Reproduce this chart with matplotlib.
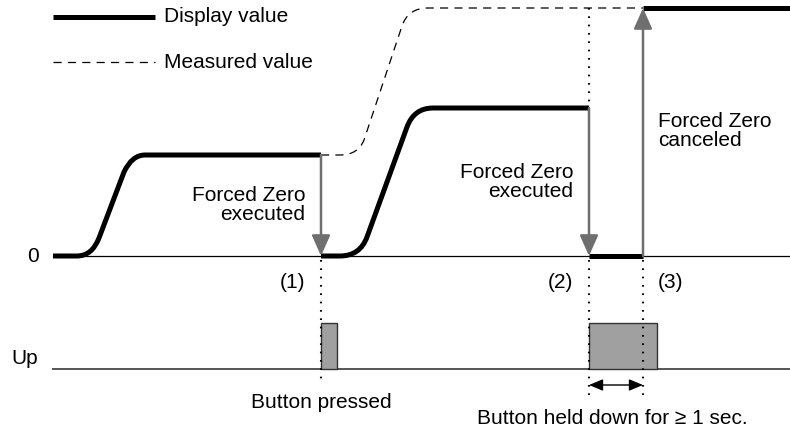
import numpy as np
import matplotlib.pyplot as plt
from matplotlib.path import Path
from matplotlib.patches import PathPatch, Rectangle, FancyArrowPatch

plt.rcParams['font.family'] = ['Liberation Sans', 'DejaVu Sans']

# time axis (x) and signal level (y)
# display value: ramp 1, ramp 2 (vertices + curve codes for the rounded corners)
disp1_x = [53, 77, 92, 99, 124, 132, 145, 321]
disp1_y = [0, 0, 0, 18, 84, 101, 101, 101]
disp2_x = [321, 340, 360, 367, 407, 414, 433, 589]
disp2_y = [0, 0, 0, 19, 129, 148, 148, 148]
ramp_codes = [Path.MOVETO, Path.LINETO, Path.CURVE3, Path.CURVE3,
              Path.LINETO, Path.CURVE3, Path.CURVE3, Path.LINETO]
# zero-held section and the final level
held_x = [589, 643]
held_y = [0, 0]
final_x = [643, 790]
final_y = [248, 248]

# measured value (dashed)
meas_x = [321, 340, 358, 364, 402, 408, 428, 643]
meas_y = [101, 101, 101, 116, 230, 248, 248, 248]

# event times
t_events = [321, 589, 643]
# button "Up" pulses: start, end
pulse_start = [321, 589]
pulse_end = [337, 657]
up_base = -113
up_top = -67

fig = plt.figure(figsize=(7.9, 4.32), dpi=100)
ax = fig.add_axes([0, 0, 1, 1])
ax.set_xlim(0, 790)
ax.set_ylim(-176, 256)
ax.axis('off')

fs = 15
thick = 3.6
grey = '#6f6f6f'
dash = (0, (6.5, 5))

# baselines
ax.plot([53, 790], [0, 0], color='black', lw=0.9, zorder=1)
ax.plot([53, 790], [up_base, up_base], color='#555555', lw=1.4, zorder=1)

# display value
for xs, ys in [(disp1_x, disp1_y), (disp2_x, disp2_y)]:
    p = Path(np.column_stack([xs, ys]), ramp_codes)
    ax.add_patch(PathPatch(p, fill=False, lw=thick, color='black',
                           capstyle='butt', joinstyle='round', zorder=4))
ax.plot(held_x, held_y, color='black', lw=thick, solid_capstyle='butt', zorder=4)
ax.plot(final_x, final_y, color='black', lw=thick, solid_capstyle='butt', zorder=4)

# measured value
p = Path(np.column_stack([meas_x, meas_y]), ramp_codes)
ax.add_patch(PathPatch(p, fill=False, lw=0.9, color='black',
                       linestyle=dash, zorder=3))

# forced zero arrows
arr = [(t_events[0], disp1_y[-1], 0), (t_events[1], disp2_y[-1], 0),
       (t_events[2], 0, final_y[0])]
for x, y0, y1 in arr:
    ax.add_patch(FancyArrowPatch((x, y0), (x, y1), arrowstyle='-|>,head_length=0.9,head_width=0.4',
                                 mutation_scale=14, color=grey, lw=1.8,
                                 shrinkA=0, shrinkB=0, zorder=5))

# dotted guide lines
dot = dict(color='black', lw=1.5, linestyle=(0, (0.8, 3.2)), zorder=6)
ax.plot([t_events[0], t_events[0]], [-4, -127], **dot)
ax.plot([t_events[1], t_events[1]], [-4, -144], **dot)
ax.plot([t_events[2], t_events[2]], [-4, -144], **dot)
ax.plot([t_events[1], t_events[1]], [248, 148], **dot)

# button pulses
for s, e in zip(pulse_start, pulse_end):
    ax.add_patch(Rectangle((s, up_base), e - s, up_top - up_base,
                           facecolor='#a0a0a0', edgecolor='#333333', lw=1.0, zorder=2))

# held-down duration
ax.add_patch(FancyArrowPatch((t_events[1], -129), (t_events[2], -129),
                             arrowstyle='<|-|>,head_length=0.6,head_width=0.25',
                             mutation_scale=14, color='black', lw=1.0,
                             shrinkA=0, shrinkB=0, zorder=5))

# legend
ax.plot([53, 155], [239, 239], color='black', lw=thick, solid_capstyle='butt')
ax.plot([53, 155], [194, 194], color='black', lw=0.9, linestyle=dash)
ax.text(164, 239, 'Display value', fontsize=fs, va='center', ha='left')
ax.text(164, 194, 'Measured value', fontsize=fs, va='center', ha='left')

# labels
ax.text(33, 0, '0', fontsize=fs, va='center', ha='center')
ax.text(25, -102, 'Up', fontsize=fs, va='center', ha='center')
ax.text(305, 51, 'Forced Zero\nexecuted', fontsize=fs, va='center', ha='right',
        multialignment='right', linespacing=1.0)
ax.text(573, 74, 'Forced Zero\nexecuted', fontsize=fs, va='center', ha='right',
        multialignment='right', linespacing=1.0)
ax.text(658, 125, 'Forced Zero\ncanceled', fontsize=fs, va='center', ha='left',
        linespacing=1.0)
ax.text(305, -26, '(1)', fontsize=fs, va='center', ha='right')
ax.text(573, -26, '(2)', fontsize=fs, va='center', ha='right')
ax.text(658, -26, '(3)', fontsize=fs, va='center', ha='left')
ax.text(321, -146, 'Button pressed', fontsize=fs, va='center', ha='center')
ax.text(612, -162, 'Button held down for \u2265 1 sec.', fontsize=fs, va='center', ha='center')

fig.savefig('out.png', dpi=100)
